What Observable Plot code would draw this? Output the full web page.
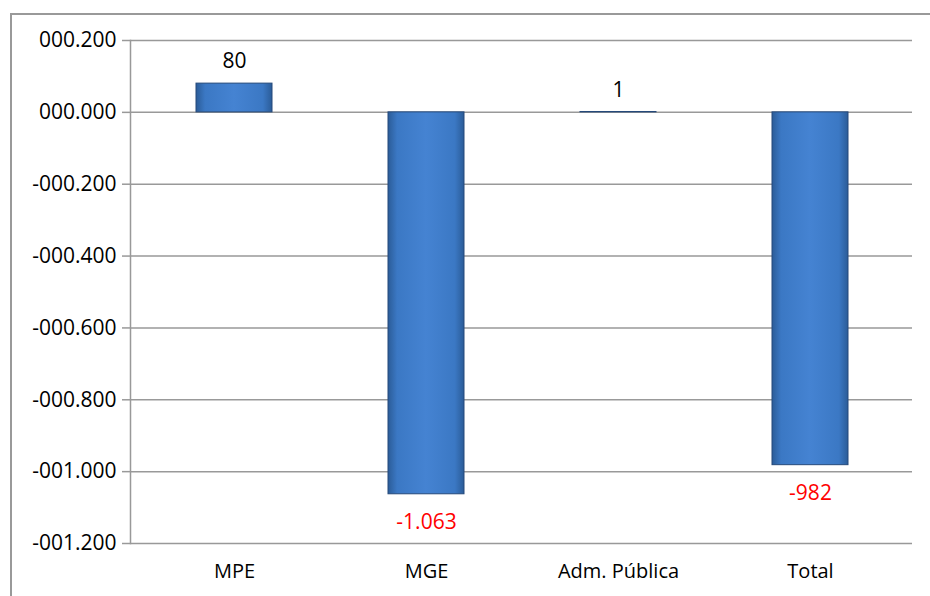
<!DOCTYPE html>
<html>
<head>
<meta charset="utf-8">
<script src="https://cdn.jsdelivr.net/npm/d3@7"></script>
<script src="https://cdn.jsdelivr.net/npm/@observablehq/plot@0.6"></script>
<style>
  body { margin: 0; background: #fff; }
  #chart { position: relative; width: 930px; height: 596px; }
  #frame { position: absolute; left: 10px; top: 13px; width: 930px; height: 600px; border-left: 2px solid #999; border-top: 2px solid #999; pointer-events: none; }
</style>
</head>
<body>
<div id="chart"><div id="frame"></div></div>
<script>
const categories = ['MPE', 'MGE', 'Adm. Pública', 'Total']
const values = [0.080, -1.063, 0.001, -0.982]
const labels = ['80', '-1.063', '1', '-982']
const ticks = [0.2, 0, -0.2, -0.4, -0.6, -0.8, -1.0, -1.2]

const data = categories.map((c, i) => ({cat: c, v: values[i], label: labels[i]}))
const pos = data.filter(d => d.v >= 0)
const neg = data.filter(d => d.v < 0)

const fmt = d => {
  const a = Math.abs(d)
  const ip = String(Math.floor(a + 1e-9)).padStart(3, '0')
  const dp = String(Math.round((a - Math.floor(a + 1e-9)) * 1000)).padStart(3, '0')
  return (d < -1e-9 ? '-' : '') + ip + '.' + dp
}

const font = 'Open Sans, Liberation Sans, sans-serif'

let chart = Plot.plot({
  width: 930,
  height: 596,
  marginLeft: 130,
  marginRight: 18,
  marginTop: 40,
  marginBottom: 53,
  style: {fontFamily: font, background: 'transparent'},
  x: {domain: categories, padding: 0, paddingOuter: 0.03, align: 0.6, label: null},
  y: {domain: [-1.2, 0.2], label: null},
  marks: [
    Plot.ruleY(ticks, {stroke: '#999', strokeWidth: 1.5}),
    Plot.frame({anchor: 'left', stroke: '#999', strokeWidth: 1.5}),
    Plot.axisY({ticks: ticks, tickFormat: fmt, tickSize: 8, tickPadding: 6, fontSize: 21, fill: 'black', stroke: '#999', strokeWidth: 1.5, label: null}),
    Plot.axisX({tickSize: 0, tickPadding: 20, fontSize: 20, fill: 'black', label: null}),
    Plot.barY(data, {x: 'cat', y: 'v', insetLeft: 58, insetRight: 58, fill: 'url(#bargrad)', stroke: '#25497a', strokeWidth: 1}),
    Plot.text(pos, {x: 'cat', y: 'v', text: 'label', dy: -22, fill: 'black', fontSize: 21}),
    Plot.text(neg, {x: 'cat', y: 'v', text: 'label', dy: 28, fill: 'red', fontSize: 21})
  ]
})

const defs = d3.select(chart).insert('defs', ':first-child')
const g = defs.append('linearGradient').attr('id', 'bargrad').attr('x1', 0).attr('x2', 1).attr('y1', 0).attr('y2', 0)
g.append('stop').attr('offset', '0%').attr('stop-color', '#2b5c98')
g.append('stop').attr('offset', '12%').attr('stop-color', '#3b78c4')
g.append('stop').attr('offset', '50%').attr('stop-color', '#4583d2')
g.append('stop').attr('offset', '88%').attr('stop-color', '#3b78c4')
g.append('stop').attr('offset', '100%').attr('stop-color', '#2b5c98')

d3.select(chart).style('position', 'absolute').style('left', 0).style('top', 0)
d3.select('#chart').append(() => chart)
</script>
</body>
</html>
